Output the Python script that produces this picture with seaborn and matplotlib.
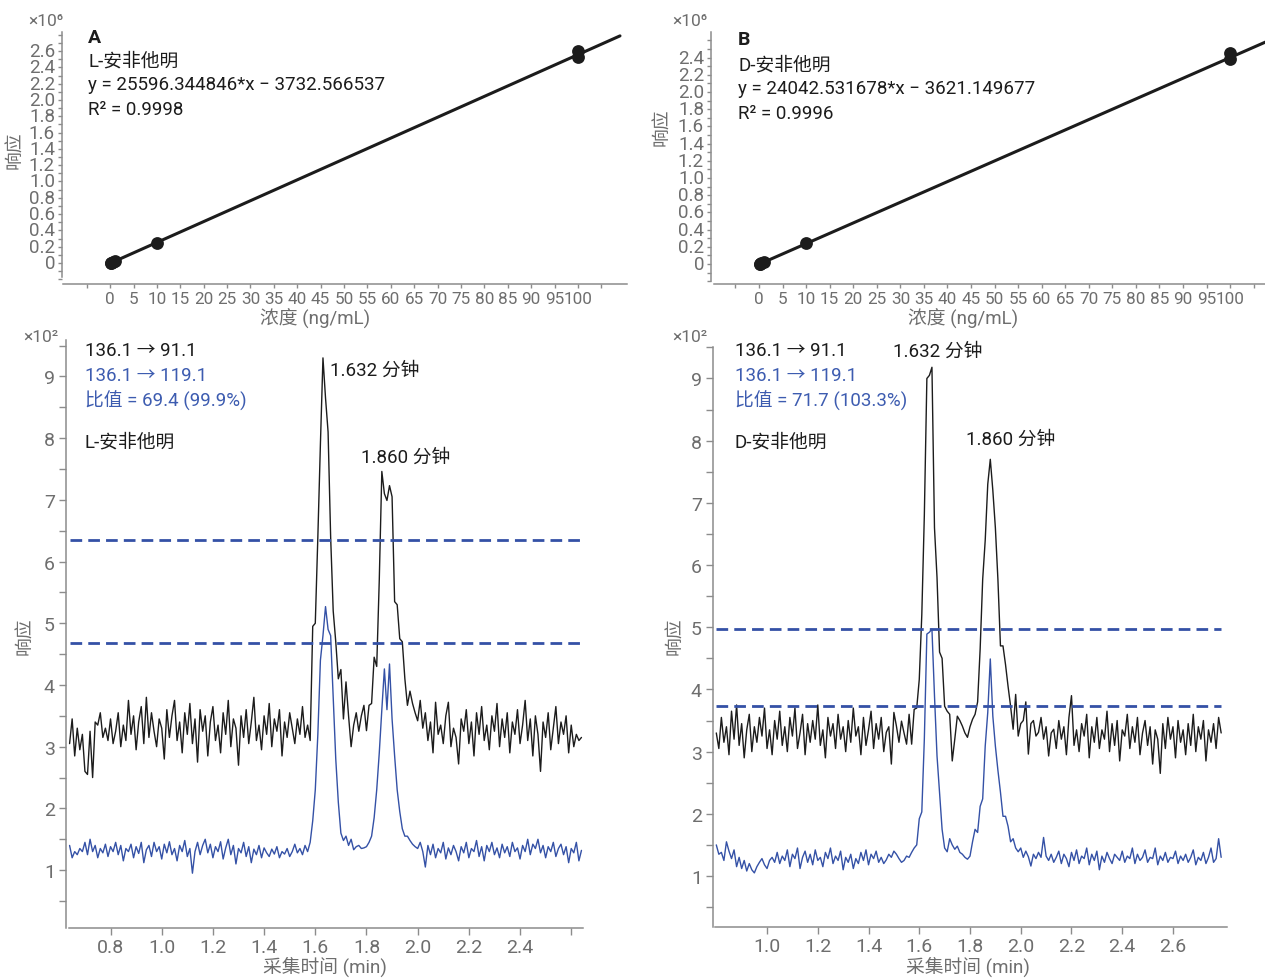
import numpy as np
import pandas as pd
import matplotlib
matplotlib.use("Agg")
import matplotlib.pyplot as plt
import seaborn as sns
from matplotlib.ticker import FixedLocator, FuncFormatter, FixedFormatter

W, H = 1265, 979
DPI = 100

sns.set_theme(style="ticks")
FONT = ["Roboto", "Noto Sans CJK SC", "DejaVu Sans"]
plt.rcParams["font.family"] = FONT
plt.rcParams["axes.unicode_minus"] = True

# ---------------- data ----------------
# calibration (response in 1e6 units)
conc_A = [0.1, 0.2, 0.5, 1.0, 10.0, 100.0, 100.0]
resp_A = [0.000, 0.003, 0.010, 0.022, 0.250, 2.525, 2.595]
conc_B = [0.1, 0.2, 0.5, 1.0, 10.0, 100.0, 100.0]
resp_B = [0.000, 0.002, 0.009, 0.020, 0.244, 2.380, 2.455]
slope_A, intercept_A, r2_A = 25596.344846, -3732.566537, 0.9998
slope_B, intercept_B, r2_B = 24042.531678, -3621.149677, 0.9996

# chromatograms (response in 1e2 units), sampled every 0.01 min
t0_L = 0.64
quant_L = [3.05, 3.45, 2.85, 3.30, 2.95, 3.20,
           2.60, 2.55, 3.25, 2.50, 3.40, 3.35, 3.55, 3.15, 3.30, 3.10,
           3.45, 3.05, 3.25, 3.55, 3.00, 3.35, 3.10, 3.75, 3.20, 3.50,
           2.95, 3.40, 3.65, 3.05, 3.80, 3.15, 3.55, 3.25, 3.00, 3.45,
           3.30, 2.80, 3.60, 3.15, 3.50, 3.75, 3.10, 3.40, 2.90, 3.55,
           3.20, 3.70, 3.05, 3.45, 2.75, 3.60, 3.25, 3.50, 2.85, 3.40,
           3.65, 3.10, 3.35, 2.90, 3.55, 3.20, 3.75, 3.00, 3.45, 3.30,
           2.70, 3.50, 3.15, 3.60, 3.05, 3.40, 3.80, 3.10, 3.35, 2.95,
           3.50, 3.20, 3.70, 3.00, 3.45, 3.25, 3.60, 2.85, 3.40, 3.15,
           3.55, 3.30, 3.05, 3.45, 3.20, 3.65, 3.15, 3.35, 3.10, 4.95,
           5.00, 6.40, 7.90, 9.30, 8.65, 8.10, 6.40, 5.20, 4.70, 4.10,
           4.25, 3.45, 4.05, 3.50, 3.00, 3.35, 3.55, 3.25, 3.50, 3.67,
           3.26, 3.67, 3.70, 4.45, 4.30, 5.70, 7.46, 7.10, 6.99, 7.23,
           7.05, 5.35, 5.30, 4.75, 4.70, 4.10, 3.67, 3.90, 3.70, 3.55,
           3.42, 3.75, 3.30, 3.55, 3.10, 3.40, 2.90, 3.72, 3.20, 3.35,
           3.05, 3.50, 3.72, 3.00, 3.30, 3.15, 2.72, 3.45, 3.25, 3.60,
           3.05, 3.40, 2.85, 3.55, 3.20, 3.65, 3.10, 3.35, 2.95, 3.50,
           3.25, 3.70, 3.00, 3.45, 3.15, 3.55, 2.90, 3.40, 3.20, 3.60,
           3.05, 3.35, 3.75, 3.10, 3.45, 2.85, 3.50, 3.20, 2.60, 3.40,
           3.15, 3.55, 2.95, 3.30, 3.65, 3.05, 3.40, 3.20, 3.50, 2.90,
           3.35, 3.00, 3.20, 3.10, 3.15]
qual_L = [1.40, 1.20, 1.30, 1.25, 1.35, 1.30,
          1.45, 1.25, 1.50, 1.30, 1.40, 1.20, 1.35, 1.28, 1.42, 1.22,
          1.38, 1.30, 1.45, 1.25, 1.40, 1.15, 1.35, 1.30, 1.42, 1.20,
          1.38, 1.27, 1.45, 1.12, 1.33, 1.40, 1.22, 1.45, 1.30, 1.38,
          1.18, 1.42, 1.28, 1.46, 1.25, 1.35, 1.15, 1.40, 1.30, 1.48,
          1.22, 1.35, 0.95, 1.30, 1.45, 1.25, 1.40, 1.50, 1.28, 1.42,
          1.20, 1.38, 1.30, 1.46, 1.18, 1.36, 1.50, 1.25, 1.40, 1.10,
          1.35, 1.28, 1.45, 1.22, 1.38, 1.12, 1.34, 1.25, 1.40, 1.20,
          1.36, 1.28, 1.22, 1.34, 1.26, 1.38, 1.20, 1.30, 1.26, 1.35,
          1.22, 1.30, 1.42, 1.28, 1.35, 1.25, 1.40, 1.30, 1.45, 1.80,
          2.30, 3.20, 4.40, 4.80, 5.27, 4.90, 4.80, 3.80, 2.80, 2.10,
          1.60, 1.48, 1.55, 1.40, 1.50, 1.33, 1.38, 1.40, 1.35, 1.36,
          1.38, 1.45, 1.55, 1.85, 2.30, 2.90, 3.60, 4.26, 3.60, 4.34,
          3.45, 2.85, 2.30, 1.95, 1.67, 1.55, 1.55, 1.48, 1.42, 1.38,
          1.35, 1.45, 1.30, 1.05, 1.40, 1.25, 1.42, 1.20, 1.35, 1.28,
          1.45, 1.18, 1.36, 1.25, 1.40, 1.30, 1.15, 1.38, 1.28, 1.45,
          1.20, 1.35, 1.30, 1.48, 1.22, 1.38, 1.15, 1.40, 1.30, 1.45,
          1.25, 1.36, 1.20, 1.42, 1.28, 1.38, 1.22, 1.45, 1.30, 1.36,
          1.18, 1.40, 1.30, 1.50, 1.25, 1.42, 1.35, 1.50, 1.28, 1.40,
          1.20, 1.38, 1.30, 1.45, 1.22, 1.35, 1.42, 1.25, 1.38, 1.12,
          1.35, 1.28, 1.45, 1.15, 1.32]

t0_D = 0.80
quant_D = [3.30, 3.05, 3.55, 3.15, 3.40, 2.95, 3.65, 3.20, 3.75, 3.10,
           3.45, 2.90, 3.35, 3.60, 3.00, 3.40, 3.15, 3.55, 3.25, 3.70,
           3.05, 3.35, 2.95, 3.50, 3.20, 3.65, 3.10, 3.40, 3.00, 3.55,
           3.25, 3.70, 3.05, 3.30, 3.60, 2.95, 3.45, 3.15, 3.50, 3.20,
           3.75, 3.10, 3.35, 2.90, 3.55, 3.25, 3.45, 3.05, 3.60, 3.20,
           3.40, 3.00, 3.50, 3.15, 3.70, 3.25, 3.40, 2.95, 3.55, 3.10,
           3.35, 3.65, 3.05, 3.45, 3.20, 3.55, 3.00, 3.31, 3.40, 2.80,
           3.63, 3.41, 3.15, 3.49, 3.30, 3.12, 3.60, 3.12, 3.68, 3.70,
           4.16, 5.20, 6.80, 9.00, 9.05, 9.18, 6.60, 5.80, 4.60, 4.50,
           3.73, 3.65, 3.60, 2.85, 3.20, 3.57, 3.50, 3.41, 3.30, 3.23,
           3.40, 3.52, 3.60, 3.80, 4.65, 5.77, 6.40, 7.30, 7.70, 7.20,
           6.60, 5.77, 4.70, 4.70, 4.40, 4.05, 3.73, 3.36, 3.92, 3.25,
           3.45, 3.50, 3.80, 2.96, 3.45, 3.50, 3.25, 3.31, 3.55, 3.20,
           3.40, 2.93, 3.30, 3.36, 3.05, 3.50, 3.20, 3.40, 2.95, 3.55,
           3.90, 3.10, 3.35, 3.00, 3.45, 3.25, 3.60, 2.90, 3.40, 3.15,
           3.55, 3.05, 3.35, 3.20, 3.65, 3.00, 3.45, 3.10, 3.50, 2.85,
           3.35, 3.25, 3.60, 3.05, 3.40, 3.15, 3.55, 2.95, 3.30, 3.50,
           3.10, 3.40, 2.80, 3.35, 3.20, 2.65, 3.45, 3.05, 3.55, 3.20,
           3.40, 2.90, 3.50, 3.15, 3.35, 2.95, 3.45, 3.10, 3.60, 3.00,
           3.40, 3.20, 3.50, 2.85, 3.35, 3.15, 3.45, 3.05, 3.55, 3.30]
qual_D = [1.50, 1.35, 1.38, 1.25, 1.55, 1.40, 1.28, 1.42, 1.15, 1.30,
          1.12, 1.25, 1.08, 1.20, 1.10, 1.05, 1.15, 1.22, 1.28, 1.18,
          1.12, 1.25, 1.30, 1.22, 1.38, 1.20, 1.32, 1.25, 1.42, 1.15,
          1.35, 1.28, 1.45, 1.12, 1.30, 1.40, 1.22, 1.35, 1.18, 1.42,
          1.25, 1.30, 1.15, 1.38, 1.28, 1.45, 1.20, 1.32, 1.25, 1.40,
          1.10, 1.30, 1.22, 1.35, 1.12, 1.28, 1.20, 1.38, 1.25, 1.42,
          1.18, 1.35, 1.28, 1.40, 1.22, 1.30, 1.20, 1.26, 1.35, 1.30,
          1.40, 1.35, 1.28, 1.22, 1.25, 1.32, 1.30, 1.38, 1.45, 1.50,
          1.92, 2.03, 3.20, 4.89, 4.92, 4.97, 3.90, 2.93, 2.35, 1.75,
          1.45, 1.39, 1.60, 1.50, 1.43, 1.48, 1.38, 1.35, 1.30, 1.27,
          1.32, 1.55, 1.75, 1.70, 2.12, 2.24, 3.09, 3.63, 4.49, 3.57,
          3.09, 2.70, 2.35, 1.96, 1.96, 1.80, 1.55, 1.60, 1.45, 1.39,
          1.45, 1.30, 1.40, 1.31, 1.16, 1.35, 1.28, 1.38, 1.30, 1.62,
          1.32, 1.25, 1.35, 1.22, 1.30, 1.40, 1.20, 1.35, 1.28, 1.15,
          1.38, 1.25, 1.42, 1.20, 1.32, 1.28, 1.45, 1.18, 1.35, 1.25,
          1.40, 1.10, 1.32, 1.22, 1.38, 1.28, 1.20, 1.35, 1.30, 1.25,
          1.40, 1.22, 1.32, 1.28, 1.45, 1.20, 1.35, 1.25, 1.30, 1.42,
          1.22, 1.30, 1.28, 1.45, 1.18, 1.32, 1.25, 1.38, 1.22, 1.30,
          1.28, 1.40, 1.20, 1.32, 1.25, 1.35, 1.22, 1.30, 1.42, 1.18,
          1.30, 1.25, 1.38, 1.20, 1.30, 1.45, 1.22, 1.28, 1.60, 1.30]

threshold_L = [6.35, 4.68]
threshold_D = [4.97, 3.73]

conc_ticks = [-5, 0, 5, 10, 15, 20, 25, 30, 35, 40, 45, 50, 55, 60, 65, 70, 75, 80, 85, 90, 95, 100, 105]
conc_labels = [""] + [str(v) for v in conc_ticks[1:-1]] + [""]

# ---------------- style ----------------
GRAY = "#6e6e6e"
SPINE = "#8c8c8c"
BLUE = "#3451a6"
TXT_BLUE = "#3d5cb0"
BLACK = "#1c1c1c"

fig = plt.figure(figsize=(W / DPI, H / DPI), dpi=DPI)
fig.patch.set_facecolor("white")


def add_ax(l, t, r, b):
    return fig.add_axes([l / W, 1 - b / H, (r - l) / W, (b - t) / H])


def ftext(x, y, s, **kw):
    kw.setdefault("va", "center")
    kw.setdefault("ha", "left")
    kw.setdefault("fontsize", 13.5)
    kw.setdefault("color", BLACK)
    fig.text(x / W, 1 - y / H, s, **kw)


def style_axes(ax, major_len, minor_len, labelsize):
    sns.despine(ax=ax)
    for side in ("left", "bottom"):
        ax.spines[side].set_color(SPINE)
        ax.spines[side].set_linewidth(1.1)
    ax.tick_params(which="major", colors=SPINE, labelcolor=GRAY,
                   labelsize=labelsize, length=major_len, width=1.0, pad=2)
    ax.tick_params(which="minor", colors=SPINE, length=minor_len, width=1.0)
    ax.set_facecolor("none")
    ax.set_xlabel("")
    ax.set_ylabel("")


def yfmt(v, pos):
    return "0" if abs(v) < 1e-9 else f"{v:.1f}"


def calib_panel(box, conc, resp, slope, intercept, fit_end, xlim, ylim,
                ymax_label, ybound_low, xbound_low):
    ax = add_ax(*box)
    df = pd.DataFrame({"conc": conc, "resp": resp})
    fit_x = np.array([0.0, fit_end])
    fit_y = (slope * fit_x + intercept) / 1e6
    sns.lineplot(x=fit_x, y=fit_y, ax=ax, color=BLACK, lw=2.2)
    sns.scatterplot(data=df, x="conc", y="resp", ax=ax, color=BLACK,
                    s=85, linewidth=0, zorder=3)
    ax.set_xlim(*xlim)
    ax.set_ylim(*ylim)
    style_axes(ax, 3, 3, 13.5)
    ax.tick_params(axis="x", pad=2, labelsize=12.3)
    ax.xaxis.set_major_locator(FixedLocator(conc_ticks))
    ax.xaxis.set_major_formatter(FixedFormatter(conc_labels))
    majors = [round(0.2 * i, 1) for i in range(int(round(ymax_label / 0.2)) + 1)]
    ax.yaxis.set_major_locator(FixedLocator(majors))
    ax.yaxis.set_major_formatter(FuncFormatter(yfmt))
    minors = [round(-0.2 + 0.1 * i, 1) for i in range(40) if -0.2 + 0.1 * i <= ylim[1] + 1e-9]
    minors = [m for m in minors if m not in majors]
    ax.yaxis.set_minor_locator(FixedLocator(minors))
    ax.spines["left"].set_bounds(ybound_low, ylim[1])
    ax.spines["bottom"].set_bounds(xbound_low, xlim[1])
    for lab in ax.get_yticklabels():
        lab.set_verticalalignment("center")
    return ax


def chrom_panel(box, t0, quant, qual, thresholds, xlim, ylim, xticks, xlabels, xbound_low):
    ax = add_ax(*box)
    n = len(quant)
    t = np.round(t0 + 0.01 * np.arange(n), 2)
    df = pd.DataFrame({
        "time": np.concatenate([t, t]),
        "resp": np.array(quant + qual),
        "ion": ["quant"] * n + ["qual"] * n,
    })
    sns.lineplot(data=df, x="time", y="resp", hue="ion",
                 palette={"quant": BLACK, "qual": BLUE},
                 hue_order=["quant", "qual"],
                 estimator=None, sort=False, lw=1.0, legend=False, ax=ax)
    for th in thresholds:
        ax.hlines(th, t[0], t[-1], colors=BLUE, linestyles=(0, (4.2, 2.2)),
                  lw=2.0, zorder=5)
    ax.set_xlim(*xlim)
    ax.set_ylim(*ylim)
    style_axes(ax, 5, 5, 14)
    ax.xaxis.set_major_locator(FixedLocator(xticks))
    ax.xaxis.set_major_formatter(FixedFormatter(xlabels))
    ax.yaxis.set_major_locator(FixedLocator(list(range(1, 10))))
    ax.yaxis.set_major_formatter(FuncFormatter(lambda v, p: f"{int(round(v))}"))
    minors = [m + 0.5 for m in range(0, 10) if m + 0.5 <= ylim[1]]
    ax.yaxis.set_minor_locator(FixedLocator(minors))
    ax.tick_params(axis="x", pad=2)
    ax.tick_params(axis="y", pad=3)
    ax.spines["bottom"].set_bounds(xbound_low, xlim[1])
    return ax


# ---------------- top-left: A ----------------
axA = calib_panel((62, 33, 627, 285), conc_A, resp_A, slope_A, intercept_A, 109.0,
                  (-10.3, 110.5), (-0.258, 2.834), 2.6, -0.17, -10.0)
ftext(28, 21, "×10⁶", color=GRAY, fontsize=12.5)
ftext(88, 38, "A", fontweight="bold", fontsize=14)
ftext(88, 61, "L-安非他明")
ftext(88, 85, f"y = {slope_A:.6f}*x − {abs(intercept_A):.6f}")
ftext(88, 110, f"R² = {r2_A:.4f}")
ftext(15, 150, "响应", ha="center", rotation=90, color=GRAY)
ftext(315, 319, "浓度 (ng/mL)", ha="center", color=GRAY)

# ---------------- top-right: B ----------------
axB = calib_panel((711, 33, 1265, 285), conc_B, resp_B, slope_B, intercept_B, 112.0,
                  (-10.2, 107.4), (-0.233, 2.698), 2.4, -0.2, -9.55)
ftext(672, 22, "×10⁶", color=GRAY, fontsize=12.5)
ftext(738, 40, "B", fontweight="bold", fontsize=14)
ftext(738, 65, "D-安非他明")
ftext(738, 89, f"y = {slope_B:.6f}*x − {abs(intercept_B):.6f}")
ftext(738, 114, f"R² = {r2_B:.4f}")
ftext(662, 127, "响应", ha="center", rotation=90, color=GRAY)
ftext(963, 319, "浓度 (ng/mL)", ha="center", color=GRAY)

# ---------------- bottom-left: L ----------------
axL = chrom_panel((66, 341, 583, 929), t0_L, quant_L, qual_L, threshold_L,
                  (0.626, 2.646), (0.062, 9.59),
                  [0.8, 1.0, 1.2, 1.4, 1.6, 1.8, 2.0, 2.2, 2.4, 2.6],
                  ["0.8", "1.0", "1.2", "1.4", "1.6", "1.8", "2.0", "2.2", "2.4", ""],
                  0.638)
ftext(23, 338, "×10²", color=GRAY, fontsize=12.5)
ftext(85, 351, "136.1 → 91.1")
ftext(85, 376, "136.1 → 119.1", color=TXT_BLUE)
ftext(85, 401, "比值 = 69.4 (99.9%)", color=TXT_BLUE)
ftext(85, 442, "L-安非他明")
ftext(330, 371, "1.632 分钟")
ftext(361, 458, "1.860 分钟")
ftext(25, 636, "响应", ha="center", rotation=90, color=GRAY)
ftext(325, 967, "采集时间 (min)", ha="center", color=GRAY)

# ---------------- bottom-right: D ----------------
axD = chrom_panel((713, 348, 1227, 928), t0_D, quant_D, qual_D, threshold_D,
                  (0.787, 2.813), (0.18, 9.506),
                  [1.0, 1.2, 1.4, 1.6, 1.8, 2.0, 2.2, 2.4, 2.6],
                  ["1.0", "1.2", "1.4", "1.6", "1.8", "2.0", "2.2", "2.4", "2.6"],
                  0.795)
ftext(672, 338, "×10²", color=GRAY, fontsize=12.5)
ftext(735, 351, "136.1 → 91.1")
ftext(735, 376, "136.1 → 119.1", color=TXT_BLUE)
ftext(735, 401, "比值 = 71.7 (103.3%)", color=TXT_BLUE)
ftext(735, 442, "D-安非他明")
ftext(893, 352, "1.632 分钟")
ftext(966, 440, "1.860 分钟")
ftext(675, 636, "响应", ha="center", rotation=90, color=GRAY)
ftext(968, 967, "采集时间 (min)", ha="center", color=GRAY)

fig.savefig("out.png", dpi=DPI)
